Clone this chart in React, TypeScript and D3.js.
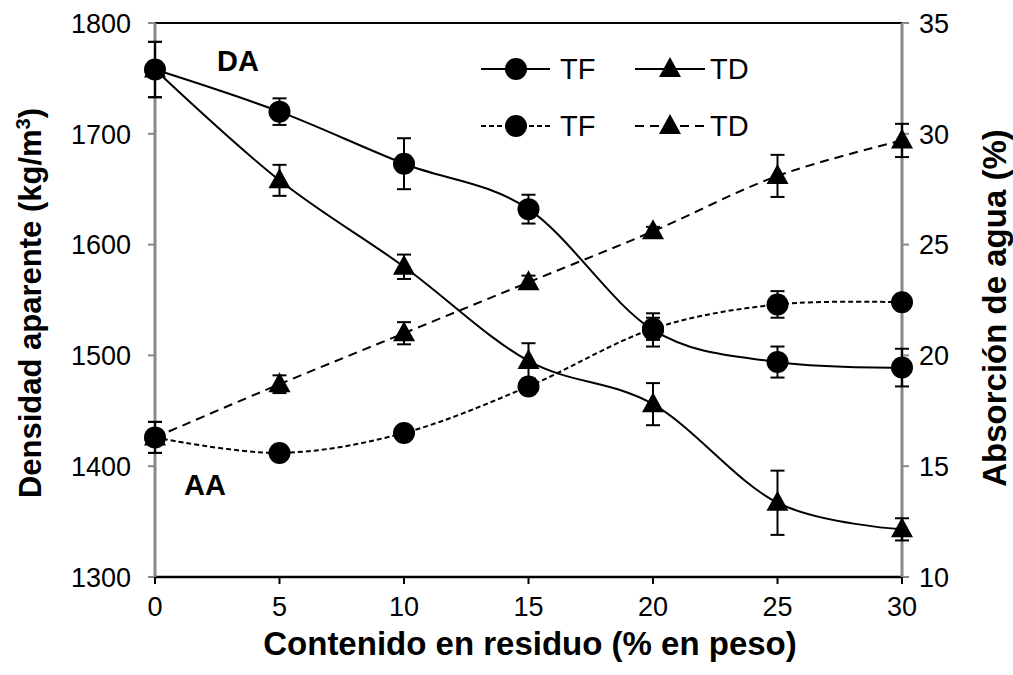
import React from "react";
import * as d3 from "d3";

const contenido = [0, 5, 10, 15, 20, 25, 30];
const daTF = [1758, 1720, 1673, 1632, 1523, 1494, 1489];
const daTFErr = [25, 12, 23, 13, 15, 14, 17];
const daTD = [1758, 1658, 1580, 1495, 1456, 1367, 1343];
const daTDErr = [25, 14, 11, 16, 19, 29, 10];
const aaTF = [16.3, 15.6, 16.5, 18.6, 21.2, 22.3, 22.4];
const aaTFErr = [0.7, 0.2, 0.2, 0.3, 0.5, 0.6, 0.2];
const aaTD = [16.3, 18.7, 21.0, 23.3, 25.6, 28.1, 29.7];
const aaTDErr = [0.7, 0.4, 0.5, 0.3, 0.2, 0.95, 0.75];
const xTicks = [0, 5, 10, 15, 20, 25, 30];
const leftTicks = [1300, 1400, 1500, 1600, 1700, 1800];
const rightTicks = [10, 15, 20, 25, 30, 35];

const L = 155, R = 902, T = 23, B = 577;
const FONT = "'Liberation Sans', Arial, sans-serif";

export default function App() {
  const x = d3.scaleLinear().domain([0, 30]).range([L, R]);
  const yL = d3.scaleLinear().domain([1300, 1800]).range([B, T]);
  const yR = d3.scaleLinear().domain([10, 35]).range([B, T]);
  const curve = d3.curveCardinal.tension(0);

  const mkLine = (vals: number[], y: d3.ScaleLinear<number, number>) =>
    d3.line<number>().x((_, i) => x(contenido[i])).y((v) => y(v)).curve(curve)(vals) || "";

  const circle = (cx: number, cy: number, k: string) => <circle key={k} cx={cx} cy={cy} r={11} fill="#000" />;
  const tri = (cx: number, cy: number, k: string) => (
    <path key={k} d={`M${cx},${cy - 12}L${cx + 11},${cy + 8}L${cx - 11},${cy + 8}Z`} fill="#000" />
  );

  const errBars = (vals: number[], errs: number[], y: d3.ScaleLinear<number, number>, k: string) =>
    vals.map((v, i) => {
      const cx = x(contenido[i]);
      const y1 = y(v + errs[i]);
      const y2 = y(v - errs[i]);
      return (
        <g key={k + i} stroke="#000" strokeWidth={2}>
          <line x1={cx} x2={cx} y1={y1} y2={y2} />
          <line x1={cx - 7} x2={cx + 7} y1={y1} y2={y1} />
          <line x1={cx - 7} x2={cx + 7} y1={y2} y2={y2} />
        </g>
      );
    });

  return (
    <svg width={1013} height={675} style={{ display: "block", position: "absolute", left: 0, top: 0 }}>
      <rect width={1013} height={675} fill="#fff" />
      {/* frame */}
      <line x1={L} x2={R} y1={T} y2={T} stroke="#000" strokeWidth={2} />
      <line x1={L} x2={R} y1={B} y2={B} stroke="#000" strokeWidth={2.5} />
      <line x1={L} x2={L} y1={T} y2={B} stroke="#888" strokeWidth={3} />
      <line x1={R} x2={R} y1={T} y2={B} stroke="#888" strokeWidth={3} />
      {leftTicks.map((t) => (
        <g key={"lt" + t}>
          <line x1={L - 7} x2={L} y1={yL(t)} y2={yL(t)} stroke="#888" strokeWidth={2} />
          <text x={131} y={yL(t)} dy="0.36em" textAnchor="end" fontFamily={FONT} fontSize={27}>{t}</text>
        </g>
      ))}
      {rightTicks.map((t) => (
        <g key={"rt" + t}>
          <line x1={R} x2={R + 7} y1={yR(t)} y2={yR(t)} stroke="#888" strokeWidth={2} />
          <text x={919} y={yR(t)} dy="0.36em" textAnchor="start" fontFamily={FONT} fontSize={27}>{t}</text>
        </g>
      ))}
      {xTicks.map((t) => (
        <g key={"xt" + t}>
          <line x1={x(t)} x2={x(t)} y1={B} y2={B + 7} stroke="#000" strokeWidth={2} />
          <text x={x(t)} y={606} dy="0.36em" textAnchor="middle" fontFamily={FONT} fontSize={27}>{t}</text>
        </g>
      ))}
      <text x={530} y={643} dy="0.36em" textAnchor="middle" fontFamily={FONT} fontSize={33} fontWeight="bold">
        Contenido en residuo (% en peso)
      </text>
      <text transform="translate(30,303) rotate(-90)" textAnchor="middle" dy="0.36em" fontFamily={FONT} fontSize={31} fontWeight="bold">
        Densidad aparente (kg/m<tspan dy="-11" fontSize={20}>3</tspan><tspan dy="11">)</tspan>
      </text>
      <text transform="translate(994,308) rotate(-90)" textAnchor="middle" dy="0.36em" fontFamily={FONT} fontSize={33} fontWeight="bold">
        Absorción de agua (%)
      </text>
      <text x={217} y={61} dy="0.36em" fontFamily={FONT} fontSize={29} fontWeight="bold">DA</text>
      <text x={184} y={485} dy="0.36em" fontFamily={FONT} fontSize={29} fontWeight="bold">AA</text>

      {/* lines */}
      <path d={mkLine(aaTF, yR)} fill="none" stroke="#000" strokeWidth={2} strokeDasharray="5,3" />
      <path d={mkLine(aaTD, yR)} fill="none" stroke="#000" strokeWidth={2} strokeDasharray="9,6" />
      <path d={mkLine(daTF, yL)} fill="none" stroke="#000" strokeWidth={2} />
      <path d={mkLine(daTD, yL)} fill="none" stroke="#000" strokeWidth={2} />

      {errBars(aaTF, aaTFErr, yR, "eaf")}
      {errBars(aaTD, aaTDErr, yR, "ead")}
      {errBars(daTF, daTFErr, yL, "edf")}
      {errBars(daTD, daTDErr, yL, "edd")}

      {aaTD.map((v, i) => tri(x(contenido[i]), yR(v), "atd" + i))}
      {aaTF.map((v, i) => circle(x(contenido[i]), yR(v), "atf" + i))}
      {daTD.map((v, i) => tri(x(contenido[i]), yL(v), "dtd" + i))}
      {daTF.map((v, i) => circle(x(contenido[i]), yL(v), "dtf" + i))}

      {/* legend */}
      <g>
        <line x1={481} x2={550} y1={69} y2={69} stroke="#000" strokeWidth={2} />
        {circle(516, 69, "lg1")}
        <text x={560} y={69} dy="0.36em" fontFamily={FONT} fontSize={29}>TF</text>
        <line x1={635} x2={705} y1={69} y2={69} stroke="#000" strokeWidth={2} />
        {tri(670, 69, "lg2")}
        <text x={710} y={69} dy="0.36em" fontFamily={FONT} fontSize={29}>TD</text>
        <line x1={481} x2={550} y1={126} y2={126} stroke="#000" strokeWidth={2} strokeDasharray="5,3" />
        {circle(516, 126, "lg3")}
        <text x={560} y={126} dy="0.36em" fontFamily={FONT} fontSize={29}>TF</text>
        <line x1={635} x2={705} y1={126} y2={126} stroke="#000" strokeWidth={2} strokeDasharray="9,6" />
        {tri(670, 126, "lg4")}
        <text x={710} y={126} dy="0.36em" fontFamily={FONT} fontSize={29}>TD</text>
      </g>
    </svg>
  );
}
